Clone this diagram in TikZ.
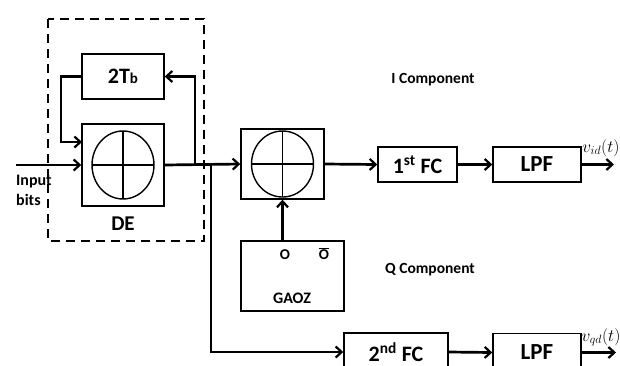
\documentclass[tikz,border=0pt]{standalone}
\usepackage{fontspec}
\setmainfont{Carlito}
\usetikzlibrary{arrows.meta}
\begin{document}
\begin{tikzpicture}[x=1pt,y=-1pt,
  blk/.style={draw,line width=1.4pt,minimum width=#1,inner sep=0pt,font=\bfseries},
  conn/.style={line width=2.7pt},
  arr/.style={conn,-{Straight Barb[length=6pt,width=11pt,line width=2.2pt]}},
  lbl/.style={font=\bfseries\fontsize{15.5}{17}\selectfont},
  big/.style={font=\bfseries\fontsize{22}{24}\selectfont}]
\useasboundingbox (0,0) rectangle (620,365);
\clip (0,0) rectangle (620,365);
% dashed box
\draw[line width=2.6pt,dash pattern=on 9pt off 6pt] (48,19) rectangle (204,241);
% blocks
\node[blk=82pt,minimum height=45pt,big] (tb) at (123,76.5) {2T{\fontsize{15}{15}\selectfont b}};
\node[blk=82pt,minimum height=82pt] (de) at (123,165) {};
\node[blk=83pt,minimum height=70pt] (mix) at (282.5,164) {};
\node[blk=79pt,minimum height=35pt,big] (fc1) at (417.5,164.5) {1\textsuperscript{st} FC};
\node[blk=88pt,minimum height=35pt,big,font=\bfseries\fontsize{23}{25}\selectfont] (lpf1) at (537,164.5) {LPF};
\node[blk=103pt,minimum height=70pt] (gaoz) at (292.5,276) {};
\node[blk=104pt,minimum height=38pt,big] (fc2) at (396,352) {2\textsuperscript{nd} FC};
\node[blk=88pt,minimum height=38pt,big,font=\bfseries\fontsize{23}{25}\selectfont] (lpf2) at (537,352.5) {LPF};
% XOR symbols
\draw[line width=1.4pt] (de.center) ellipse [x radius=31pt,y radius=34pt];
\draw[line width=1.4pt] ([yshift=34pt]de.center) -- ([yshift=-34pt]de.center);
\draw[line width=1.4pt] ([xshift=-31pt]de.center) -- ([xshift=31pt]de.center);
\draw[line width=1.4pt] (mix.center) ellipse [x radius=31pt,y radius=33pt];
\draw[line width=1.4pt] ([yshift=33pt]mix.center) -- ([yshift=-33pt]mix.center);
\draw[line width=1.4pt] ([xshift=-31pt]mix.center) -- ([xshift=31pt]mix.center);
% coordinates
\coordinate (in) at (16,165);
\coordinate (br1) at (195,165);
\coordinate (br2) at (211,165);
\coordinate (fbc) at (61,142);
\coordinate (fbin) at (82,142);
\coordinate (out1) at (614,164.5);
\coordinate (out2) at (616,352.5);
% connectors
\draw[arr] (in) -- (de.west);
\draw[arr] (de.east) -- (mix.west);
\draw[arr] (br1) |- (tb.east);
\draw[arr] (tb.west) -| (fbc) -- (fbin);
\draw[arr] (br2) |- (fc2.west);
\draw[arr] (gaoz.north -| mix.south) -- (mix.south);
\draw[arr] (mix.east) -- (fc1.west);
\draw[arr] (fc1.east) -- (lpf1.west);
\draw[arr] (lpf1.east) -- (out1);
\draw[arr] (fc2.east) -- (lpf2.west);
\draw[arr] (lpf2.east) -- (out2);
% labels
\node[lbl] (ic) at (433,80) {I Component};
\node[lbl] (qc) at (430,270) {Q Component};
\node[lbl,anchor=north west,align=left,inner sep=0pt,font=\bfseries\fontsize{16}{20}\selectfont] (ib) at (16,175) {Input\\bits};
\node[big,font=\bfseries\fontsize{21}{23}\selectfont] (delbl) at (123,224) {DE};
\node[lbl,font=\bfseries\fontsize{15}{16}\selectfont] (o1) at (285,255) {O};
\node[lbl,font=\bfseries\fontsize{15}{16}\selectfont] (o2) at (324,254) {$\overline{\mbox{O}}$};
\node[lbl,font=\bfseries\fontsize{16}{17}\selectfont] (glbl) at (292,298) {GAOZ};
\node[font=\fontsize{18}{20}\selectfont,inner sep=0pt] (v1) at (601,148) {$v_{id}(t)$};
\node[font=\fontsize{18}{20}\selectfont,inner sep=0pt] (v2) at (601,337) {$v_{qd}(t)$};
\end{tikzpicture}
\end{document}
